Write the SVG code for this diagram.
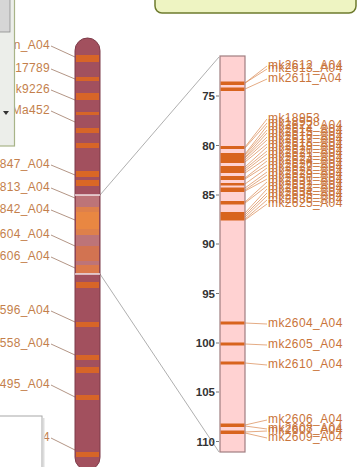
<svg xmlns="http://www.w3.org/2000/svg" width="360" height="467" viewBox="0 0 360 467">
<style>
text{font-family:"Liberation Sans",Arial,sans-serif;}
.ll{font-size:12px;fill:#c47f4c;text-anchor:end;letter-spacing:0.3px}
.rl{font-size:12px;fill:#c9743a;letter-spacing:0.4px}
.tk{font-size:11.5px;fill:#333;font-weight:bold;text-anchor:end}
.lln{stroke:#a07a66;stroke-width:0.8;fill:none}
.rln{stroke:#d9874f;stroke-width:0.7;fill:none}
.zoom{stroke:#9a9a9a;stroke-width:0.8;fill:none}
.lb{fill:#e0691f}
.rb{fill:#d8641e}
</style>
<rect x="0" y="0" width="360" height="467" fill="#ffffff"/>

<g id="connectors">
<line class="zoom" x1="100" y1="195" x2="219" y2="57"/>
<line class="zoom" x1="100" y1="274" x2="219" y2="452"/>
<polyline class="lln" points="51,46 75,57"/>
<polyline class="lln" points="51,69 75,79"/>
<polyline class="lln" points="51,90 75,100"/>
<polyline class="lln" points="51,111 75,122"/>
<polyline class="lln" points="51,165 75,175"/>
<polyline class="lln" points="51,188 75,198"/>
<polyline class="lln" points="51,210 75,220"/>
<polyline class="lln" points="51,235 75,246"/>
<polyline class="lln" points="51,257 75,268"/>
<polyline class="lln" points="51,311 75,322"/>
<polyline class="lln" points="51,344 75,355"/>
<polyline class="lln" points="51,385 75,397"/>
<polyline class="lln" points="51,438 75,450"/>
<polyline class="rln" points="245,83 267,66"/>
<polyline class="rln" points="245,83 267,69"/>
<polyline class="rln" points="245,89 267,79"/>
<polyline class="rln" points="245,147 267,119"/>
<polyline class="rln" points="245,148 267,123"/>
<polyline class="rln" points="245,154 267,126"/>
<polyline class="rln" points="245,155 267,130"/>
<polyline class="rln" points="245,157 267,133"/>
<polyline class="rln" points="245,158 267,137"/>
<polyline class="rln" points="245,160 267,140"/>
<polyline class="rln" points="245,162 267,144"/>
<polyline class="rln" points="245,167 267,147"/>
<polyline class="rln" points="245,169 267,151"/>
<polyline class="rln" points="245,171 267,154"/>
<polyline class="rln" points="245,173 267,158"/>
<polyline class="rln" points="245,178 267,161"/>
<polyline class="rln" points="245,179 267,165"/>
<polyline class="rln" points="245,184 267,168"/>
<polyline class="rln" points="245,188 267,172"/>
<polyline class="rln" points="245,190 267,175"/>
<polyline class="rln" points="245,191 267,179"/>
<polyline class="rln" points="245,202 267,182"/>
<polyline class="rln" points="245,203 267,186"/>
<polyline class="rln" points="245,213 267,189"/>
<polyline class="rln" points="245,215 267,193"/>
<polyline class="rln" points="245,217 267,196"/>
<polyline class="rln" points="245,219 267,200"/>
<polyline class="rln" points="245,220 267,204"/>
<polyline class="rln" points="245,323 267,324"/>
<polyline class="rln" points="245,344 267,345"/>
<polyline class="rln" points="245,363 267,365"/>
<polyline class="rln" points="245,425 267,420"/>
<polyline class="rln" points="245,426 267,429"/>
<polyline class="rln" points="245,432 267,431"/>
<polyline class="rln" points="245,433 267,438"/>
</g>

<g id="left-chromosome">
<rect x="75" y="38" width="25" height="432" rx="12.5" fill="#a2505e" stroke="#7c3a48" stroke-width="1"/>
<rect class="lb" x="76" y="55" width="23" height="7" opacity="0.85"/>
<rect class="lb" x="76" y="77" width="23" height="4" opacity="0.85"/>
<rect class="lb" x="76" y="93" width="23" height="7" opacity="0.85"/>
<rect class="lb" x="76" y="112" width="23" height="3" opacity="0.85"/>
<rect class="lb" x="76" y="128" width="23" height="5" opacity="0.85"/>
<rect class="lb" x="76" y="143" width="23" height="5" opacity="0.85"/>
<rect class="lb" x="76" y="171" width="23" height="6" opacity="0.9"/>
<rect class="lb" x="76" y="180" width="23" height="6" opacity="0.9"/>
<rect x="76" y="195" width="23" height="79" fill="#bd7478"/>
<rect x="76" y="207" width="23" height="28" fill="#e9843c" opacity="0.75"/>
<rect x="76" y="212" width="23" height="17" fill="#ee8a3e" opacity="0.65"/>
<rect x="76" y="246" width="23" height="15" fill="#dc7440" opacity="0.7"/>
<rect x="76" y="265" width="23" height="8" fill="#e27a40" opacity="0.8"/>
<line x1="75" y1="195" x2="100" y2="195" stroke="#ffffff" stroke-width="1.2"/>
<line x1="75" y1="274" x2="100" y2="274" stroke="#ffffff" stroke-width="1.2"/>
<rect class="lb" x="76" y="282" width="23" height="6" opacity="0.85"/>
<rect class="lb" x="76" y="322" width="23" height="5" opacity="0.85"/>
<rect class="lb" x="76" y="355" width="23" height="5" opacity="0.85"/>
<rect class="lb" x="76" y="367" width="23" height="6" opacity="0.85"/>
<rect class="lb" x="76" y="395" width="23" height="5" opacity="0.85"/>
<rect class="lb" x="76" y="452" width="23" height="5" opacity="0.85"/>
</g>

<g id="left-labels">
<text class="ll" x="50" y="49">n_A04</text>
<text class="ll" x="50" y="72">17789</text>
<text class="ll" x="50" y="93">k9226</text>
<text class="ll" x="50" y="114">Ma452</text>
<text class="ll" x="50" y="168">847_A04</text>
<text class="ll" x="50" y="191">813_A04</text>
<text class="ll" x="50" y="213">842_A04</text>
<text class="ll" x="50" y="238">604_A04</text>
<text class="ll" x="50" y="260">606_A04</text>
<text class="ll" x="50" y="314">596_A04</text>
<text class="ll" x="50" y="347">558_A04</text>
<text class="ll" x="50" y="388">495_A04</text>
<text class="ll" x="50" y="441">4</text>
</g>

<g id="right-chromosome">
<rect x="220" y="56" width="25" height="396" fill="#ffd2d2" stroke="#a07e80" stroke-width="1.2"/>
<rect class="rb" x="220.6" y="81.5" width="23.8" height="3.5"/>
<rect class="rb" x="220.6" y="87.5" width="23.8" height="3.5"/>
<rect class="rb" x="220.6" y="146" width="23.8" height="3"/>
<rect class="rb" x="220.6" y="153" width="23.8" height="10"/>
<rect class="rb" x="220.6" y="166" width="23.8" height="7"/>
<rect class="rb" x="220.6" y="176" width="23.8" height="4"/>
<rect class="rb" x="220.6" y="183" width="23.8" height="2.5"/>
<rect class="rb" x="220.6" y="187.5" width="23.8" height="4.5"/>
<rect class="rb" x="220.6" y="201" width="23.8" height="3.5"/>
<rect class="rb" x="220.6" y="212" width="23.8" height="8.5"/>
<rect class="rb" x="220.6" y="321.5" width="23.8" height="3"/>
<rect class="rb" x="220.6" y="342.5" width="23.8" height="3"/>
<rect class="rb" x="220.6" y="361.5" width="23.8" height="3"/>
<rect class="rb" x="220.6" y="423.5" width="23.8" height="3.5"/>
<rect class="rb" x="220.6" y="430.5" width="23.8" height="3.5"/>
</g>

<g id="axis">
<g stroke="#555" stroke-width="0.8">
<line x1="216" y1="96" x2="219" y2="96"/>
<line x1="216" y1="145.5" x2="219" y2="145.5"/>
<line x1="216" y1="195" x2="219" y2="195"/>
<line x1="216" y1="244" x2="219" y2="244"/>
<line x1="216" y1="293.5" x2="219" y2="293.5"/>
<line x1="216" y1="343" x2="219" y2="343"/>
<line x1="216" y1="392" x2="219" y2="392"/>
<line x1="216" y1="441.5" x2="219" y2="441.5"/>
</g>
<text class="tk" x="215" y="100">75</text>
<text class="tk" x="215" y="149.5">80</text>
<text class="tk" x="215" y="199">85</text>
<text class="tk" x="215" y="248">90</text>
<text class="tk" x="215" y="297.5">95</text>
<text class="tk" x="215" y="347">100</text>
<text class="tk" x="215" y="396">105</text>
<text class="tk" x="215" y="445.5">110</text>
</g>

<g id="right-labels">
<text class="rl" x="268" y="69">mk2612_A04</text>
<text class="rl" x="268" y="72">mk2613_A04</text>
<text class="rl" x="268" y="82">mk2611_A04</text>
<text class="rl" x="268" y="122">mk18953</text>
<text class="rl" x="268" y="126">mk18958</text>
<text class="rl" x="268" y="129">mk2622_A04</text>
<text class="rl" x="268" y="133">mk2614_A04</text>
<text class="rl" x="268" y="136">mk2615_A04</text>
<text class="rl" x="268" y="140">mk2616_A04</text>
<text class="rl" x="268" y="143">mk2617_A04</text>
<text class="rl" x="268" y="147">mk2618_A04</text>
<text class="rl" x="268" y="150">mk2619_A04</text>
<text class="rl" x="268" y="154">mk2620_A04</text>
<text class="rl" x="268" y="157">mk2621_A04</text>
<text class="rl" x="268" y="161">mk2623_A04</text>
<text class="rl" x="268" y="164">mk2624_A04</text>
<text class="rl" x="268" y="168">mk2626_A04</text>
<text class="rl" x="268" y="171">mk2627_A04</text>
<text class="rl" x="268" y="175">mk2628_A04</text>
<text class="rl" x="268" y="178">mk2629_A04</text>
<text class="rl" x="268" y="182">mk2630_A04</text>
<text class="rl" x="268" y="185">mk2631_A04</text>
<text class="rl" x="268" y="189">mk2632_A04</text>
<text class="rl" x="268" y="192">mk2633_A04</text>
<text class="rl" x="268" y="196">mk2634_A04</text>
<text class="rl" x="268" y="199">mk2635_A04</text>
<text class="rl" x="268" y="203">mk2636_A04</text>
<text class="rl" x="268" y="207">mk2625_A04</text>
<text class="rl" x="268" y="327">mk2604_A04</text>
<text class="rl" x="268" y="348">mk2605_A04</text>
<text class="rl" x="268" y="368">mk2610_A04</text>
<text class="rl" x="268" y="423">mk2606_A04</text>
<text class="rl" x="268" y="432">mk2608_A04</text>
<text class="rl" x="268" y="434">mk2607_A04</text>
<text class="rl" x="268" y="441">mk2609_A04</text>
</g>

<g id="top-left-panel">
<rect x="-2" y="-2" width="16.5" height="148" fill="#eceeea" stroke="#a8b488" stroke-width="1.2"/>
<rect x="-1" y="-1" width="11" height="33" fill="#d6d6d6" stroke="#8c8c8c" stroke-width="0.8"/>
<path d="M3,111 L9,111 L6,115 Z" fill="#333"/>
</g>

<g id="bottom-left-box">
<rect x="43" y="418" width="1.5" height="52" fill="#dddddd"/>
<rect x="-2" y="416" width="44" height="55" fill="#ffffff" stroke="#a8a8a8" stroke-width="1"/>
</g>

<g id="top-right-box">
<rect x="155" y="-12" width="201" height="25" rx="7" fill="#eef4c2" stroke="#6e7b2e" stroke-width="1.5"/>
</g>
</svg>
